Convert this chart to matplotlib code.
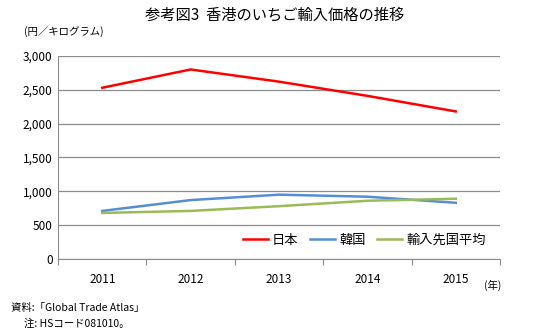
import matplotlib
matplotlib.use("Agg")
import matplotlib.pyplot as plt

plt.rcParams["font.family"] = ["Noto Sans CJK JP", "DejaVu Sans"]

YEARS = ["2011", "2012", "2013", "2014", "2015"]
JAPAN = [2530, 2800, 2620, 2410, 2180]
KOREA = [710, 870, 950, 920, 830]
AVERAGE = [680, 710, 780, 860, 890]
Y_TICKS = [0, 500, 1000, 1500, 2000, 2500, 3000]

GRID = "#8c8c8c"

fig = plt.figure(figsize=(5.33, 3.35), dpi=100)
ax = fig.add_axes([0.109, 0.227, 0.829, 0.606])

x = range(len(YEARS))
ax.plot(x, JAPAN, color="#ff0000", lw=1.8, label="日本")
ax.plot(x, KOREA, color="#558ed5", lw=1.8, label="韓国")
ax.plot(x, AVERAGE, color="#9bbb59", lw=1.8, label="輸入先国平均")

ax.set_xlim(-0.5, len(YEARS) - 0.5)
ax.set_ylim(0, 3000)
ax.set_yticks(Y_TICKS)
ax.set_yticklabels([f"{v:,}" for v in Y_TICKS], fontsize=8.5)
ax.set_xticks([i - 0.5 for i in range(len(YEARS) + 1)], minor=False)
ax.set_xticklabels([])
ax.set_xticks(list(x), minor=True)
ax.set_xticklabels(YEARS, minor=True, fontsize=8.5)
ax.tick_params(axis="x", which="major", direction="out", length=4, color=GRID)
ax.tick_params(axis="x", which="minor", length=0, pad=10)
ax.tick_params(axis="y", length=0, pad=4)

ax.grid(axis="y", color=GRID, lw=0.9)
ax.set_axisbelow(True)
for side in ["top", "right"]:
    ax.spines[side].set_visible(False)
for side in ["left", "bottom"]:
    ax.spines[side].set_color(GRID)

ax.legend(loc="lower right", ncol=3, frameon=False, fontsize=9.5,
          handlelength=1.9, columnspacing=0.9, handletextpad=0.3,
          bbox_to_anchor=(0.995, 0.0))

fig.text(0.516, 0.955, "参考図3  香港のいちご輸入価格の推移", ha="center", va="center", fontsize=11)
fig.text(0.045, 0.904, "(円／キログラム)", ha="left", va="center", fontsize=7.5)
fig.text(0.94, 0.148, "(年)", ha="right", va="center", fontsize=7.5)
fig.text(0.02, 0.08, "資料:「Global Trade Atlas」", ha="left", va="center", fontsize=7.5)
fig.text(0.045, 0.035, "注: HSコード081010。", ha="left", va="center", fontsize=7.5)

fig.savefig("out.png", dpi=100)
